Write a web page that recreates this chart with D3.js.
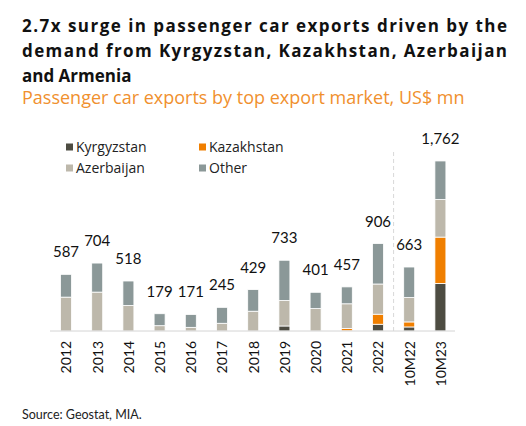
<!DOCTYPE html>
<html>
<head>
<meta charset="utf-8">
<script src="https://cdn.jsdelivr.net/npm/d3@7"></script>
<style>
  body { margin: 0; background: #fff; }
</style>
</head>
<body>
<div id="chart"></div>
<script>
// chart values, US$ mn
const categories = ['2012','2013','2014','2015','2016','2017','2018','2019','2020','2021','2022','10M22','10M23']
const kyrgyzstan = [0, 0, 0, 0, 0, 0, 0, 52, 0, 2, 70, 42, 493]
const kazakhstan = [0, 0, 0, 0, 0, 0, 0, 0, 0, 25, 104, 52, 480]
const azerbaijan = [351, 403, 264, 55, 38, 80, 205, 264, 232, 255, 313, 253, 389]
const other = [236, 301, 254, 124, 133, 165, 224, 417, 169, 175, 419, 316, 400]
const totals = [587, 704, 518, 179, 171, 245, 429, 733, 401, 457, 906, 663, 1762]
const seriesNames = ['Kyrgyzstan', 'Kazakhstan', 'Azerbaijan', 'Other']
const colors = ['#4d4c42', '#f07f00', '#bdb8ab', '#8b9898']

const width = 526, height = 426
const lato = 'Lato, sans-serif'
const openSans = '"Open Sans", sans-serif'

let svg = d3.select('#chart').append('svg')
  .attr('width', width)
  .attr('height', height)

// title, justified on the first two lines
const titleLines = ['2.7x surge in passenger car exports driven by the',
  'demand from Kyrgyzstan, Kazakhstan, Azerbaijan',
  'and Armenia']
titleLines.forEach((t, i) => {
  let tx = svg.append('text')
    .attr('x', 22)
    .attr('y', 32 + i * 24.8)
    .style('font-family', openSans)
    .attr('font-size', 17)
    .attr('font-weight', 'bold')
    .attr('fill', '#111')
    .text(t)
  if (i < 2) tx.attr('textLength', 485).attr('lengthAdjust', 'spacing')
})

svg.append('text')
  .attr('x', 22)
  .attr('y', 104)
  .style('font-family', openSans)
  .attr('font-size', 18)
  .attr('fill', '#f0902e')
  .text('Passenger car exports by top export market, US$ mn')

// legend
const legendPos = [[66, 147], [199, 147], [66, 168], [199, 168]]
seriesNames.forEach((n, i) => {
  let g = svg.append('g').attr('transform', `translate(${legendPos[i][0]},${legendPos[i][1]})`)
  g.append('rect').attr('x', 0).attr('y', -3.5).attr('width', 7).attr('height', 7).attr('fill', colors[i])
  g.append('text').attr('x', 10).attr('y', 5)
    .style('font-family', openSans)
    .attr('font-size', 14).attr('fill', '#222').text(n)
})

// scales
let x = d3.scalePoint().domain(categories).range([66, 440.4])
let y = d3.scaleLinear().domain([0, 1800]).range([331, 331 - 1800 * 0.0965])
const barW = 11

const rows = categories.map((c, i) => ({
  cat: c,
  Kyrgyzstan: kyrgyzstan[i],
  Kazakhstan: kazakhstan[i],
  Azerbaijan: azerbaijan[i],
  Other: other[i],
  total: totals[i]
}))

let stacked = d3.stack().keys(seriesNames)(rows)

let layers = svg.append('g').selectAll('g')
  .data(stacked)
  .enter().append('g')
  .attr('fill', (d, i) => colors[i])

layers.selectAll('rect')
  .data(d => d.filter(s => s[1] - s[0] > 0))
  .enter().append('rect')
  .attr('x', d => x(d.data.cat) - barW / 2)
  .attr('width', barW)
  .attr('y', d => y(d[1]))
  .attr('height', d => y(d[0]) - y(d[1]))
  .attr('stroke', '#fff')
  .attr('stroke-width', 0.8)

// baseline
svg.append('line')
  .attr('x1', 50).attr('x2', 455)
  .attr('y1', y(0)).attr('y2', y(0))
  .attr('stroke', '#d4d4d4')
  .attr('stroke-width', 1)

// divider between full years and 10M figures
let divX = (x('2022') + x('10M22')) / 2
svg.append('line')
  .attr('x1', divX).attr('x2', divX)
  .attr('y1', 152).attr('y2', y(0))
  .attr('stroke', '#d8d8d8')
  .attr('stroke-dasharray', '4,3')

// total labels
svg.append('g').selectAll('text')
  .data(rows)
  .enter().append('text')
  .attr('x', d => x(d.cat))
  .attr('y', d => y(d.total) - 17)
  .attr('text-anchor', 'middle')
  .style('font-family', lato)
  .attr('font-size', 15)
  .attr('fill', '#111')
  .text(d => d3.format(',')(d.total))

// x axis labels, rotated
let xAxis = d3.axisBottom(x).tickSize(0).tickPadding(0)
let ax = svg.append('g').attr('transform', `translate(0,${y(0)})`).call(xAxis)
ax.select('.domain').remove()
ax.selectAll('text')
  .style('font-family', lato)
  .attr('font-size', 14)
  .attr('fill', '#111')
  .attr('transform', 'rotate(-90)')
  .attr('text-anchor', 'end')
  .attr('x', -10)
  .attr('y', 0)
  .attr('dy', '0.35em')

svg.append('text')
  .attr('x', 22)
  .attr('y', 419)
  .style('font-family', lato)
  .attr('font-size', 12.5)
  .attr('fill', '#222')
  .text('Source: Geostat, MIA.')
</script>
</body>
</html>
